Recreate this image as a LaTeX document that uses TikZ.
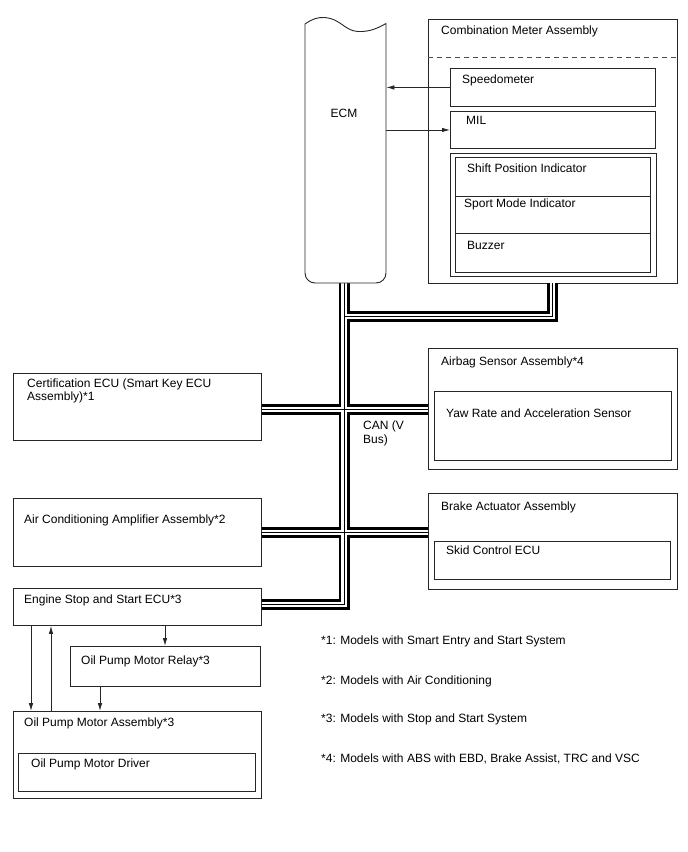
\documentclass[tikz,border=0pt]{standalone}
\usepackage{fontspec}
\setmainfont{Liberation Sans}
\usetikzlibrary{arrows.meta}

% CAN bus path (drawn in three layers)
\newcommand{\canpath}{(cmbBus) -- (cmbBus |- jMeter) -- (jMeter)
  (ecmBus) -- (engBus -| ecmBus) -- (engBus)
  (certBus) -- (certBus -| air.west)
  (ac.east) -- (ac.east -| brk.west)}

\begin{document}
\begin{tikzpicture}[x=1pt, y=-1pt, >={Latex[length=8pt,width=4.5pt]},
    box/.style={draw=black!85, line width=0.9pt, rectangle, anchor=north west, inner sep=0pt},
    lbl/.style={anchor=base west, inner sep=0pt, font=\fontsize{12}{14}\selectfont},
    link/.style={->, draw=black!85, line width=0.8pt}]
    \useasboundingbox (0,0) rectangle (688,852);

    % Combination meter
    \node[box, minimum width=249, minimum height=264] (cmb) at (428,19) {};
    \node[lbl] (tCmb) at (441,34.5) {Combination Meter Assembly};
    \draw[dashed, draw=black!70, line width=0.8pt, dash pattern=on 5pt off 4pt] (428,57) -- (677,57);
    \node[box, minimum width=205, minimum height=38] (spd) at (450,68) {};
    \node[lbl] (tSpd) at (462,83) {Speedometer};
    \node[box, minimum width=205, minimum height=37] (mil) at (450,111) {};
    \node[lbl] (tMil) at (466,124) {MIL};
    \node[box, minimum width=206, minimum height=123] (grp) at (450,153) {};
    \node[box, minimum width=195, minimum height=39] (sft) at (455,157) {};
    \node[box, minimum width=195, minimum height=37] (spt) at (455,196) {};
    \node[box, minimum width=195, minimum height=39] (buz) at (455,233) {};
    \node[lbl] (tSft) at (467,172) {Shift Position Indicator};
    \node[lbl] (tSpt) at (464,207) {Sport Mode Indicator};
    \node[lbl] (tBuz) at (467,249) {Buzzer};

    % Left column
    \node[box, minimum width=248, minimum height=67] (cert) at (13,373) {};
    \node[lbl] (tCert1) at (27,387) {Certification ECU (Smart Key ECU};
    \node[lbl] (tCert2) at (27,400.5) {Assembly)*1};
    \node[box, minimum width=248, minimum height=68] (ac) at (13,498) {};
    \node[lbl] (tAc) at (24,523) {Air Conditioning Amplifier Assembly*2};
    \node[box, minimum width=248, minimum height=37] (eng) at (13,588) {};
    \node[lbl] (tEng) at (24,603) {Engine Stop and Start ECU*3};
    \node[box, minimum width=190, minimum height=40] (rly) at (70,646) {};
    \node[lbl] (tRly) at (81,664) {Oil Pump Motor Relay*3};
    \node[box, minimum width=248, minimum height=87] (opa) at (13,711) {};
    \node[lbl] (tOpa) at (24,726.5) {Oil Pump Motor Assembly*3};
    \node[box, minimum width=237, minimum height=38] (drv) at (18,753) {};
    \node[lbl] (tDrv) at (31,767) {Oil Pump Motor Driver};

    % Right column
    \node[box, minimum width=249, minimum height=121] (air) at (428,348) {};
    \node[lbl] (tAir) at (441,365) {Airbag Sensor Assembly*4};
    \node[box, minimum width=237, minimum height=69] (yaw) at (434,391) {};
    \node[lbl] (tYaw) at (446,417) {Yaw Rate and Acceleration Sensor};
    \node[box, minimum width=249, minimum height=96] (brk) at (428,493) {};
    \node[lbl] (tBrk) at (441,510) {Brake Actuator Assembly};
    \node[box, minimum width=236, minimum height=38] (skid) at (434,541) {};
    \node[lbl] (tSkid) at (446,554) {Skid Control ECU};

    % ECM
    \node[minimum width=81, minimum height=264, anchor=north west, inner sep=0pt] (ecm) at (305,19) {};

    % CAN bus
    \coordinate (ecmBus) at (344,283);
    \coordinate (jMeter) at (344,316.5);
    \coordinate (cmbBus) at (552.5,283);
    \path (cert.east) ++(0,2.5) coordinate (certBus);
    \path (eng.east) ++(0,-2.5) coordinate (engBus);
    \foreach \w/\c in {11/black, 5.5/white, 1/black}
        \draw[line width=\w pt, \c, line join=miter] \canpath;

    \draw[fill=white, draw=black!85, line width=0.9pt] (305,150) -- (305,24)
        .. controls (312,19) and (318,17) .. (325,17.5)
        .. controls (340,18.5) and (345,31) .. (358,31.5)
        .. controls (370,32) and (378,28) .. (386,23.5)
        {[rounded corners=10pt] -- (386,283) -- (305,283) -- (305,150)} -- cycle;
    \node[lbl, anchor=base] (tEcm) at (344,117) {ECM};
    \node[lbl] (tCan1) at (363,429) {CAN (V};
    \node[lbl] (tCan2) at (363,443.5) {Bus)};

    % Signal lines
    \draw[link] (spd.west) -- (spd.west -| ecm.east);
    \draw[link] (mil.west -| ecm.east) -- (mil.west);
    \draw[link] ([xshift=18pt]eng.south west) -- ([xshift=18pt]eng.south west |- opa.north);
    \draw[link] ([xshift=38pt]opa.north west) -- ([xshift=38pt]opa.north west |- eng.south);
    \draw[link] ([xshift=152pt]eng.south west) -- ([xshift=152pt]eng.south west |- rly.north);
    \draw[link] ([xshift=30pt]rly.south west) -- ([xshift=30pt]rly.south west |- opa.north);

    % Notes
    \node[lbl] (n1) at (321,644) {*1: Models with Smart Entry and Start System};
    \node[lbl] (n2) at (321,684) {*2: Models with Air Conditioning};
    \node[lbl] (n3) at (321,722) {*3: Models with Stop and Start System};
    \node[lbl] (n4) at (321,762) {*4: Models with ABS with EBD, Brake Assist, TRC and VSC};
\end{tikzpicture}
\end{document}
